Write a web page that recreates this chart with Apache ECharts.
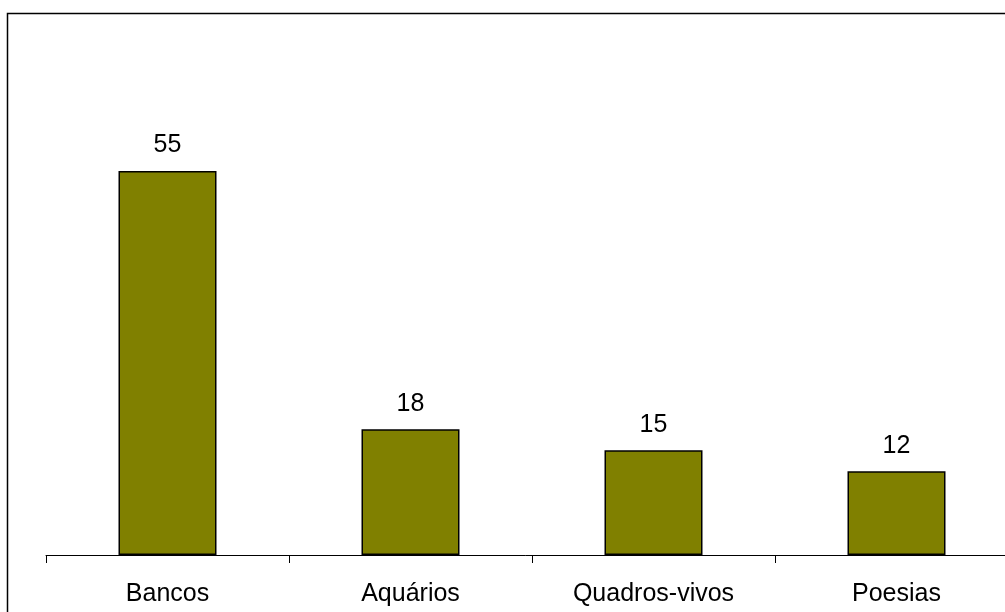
<!DOCTYPE html>
<html>
<head>
<meta charset="utf-8">
<script src="https://cdn.jsdelivr.net/npm/echarts@6/dist/echarts.min.js"></script>
<style>
  html, body { margin: 0; padding: 0; background: #fff; }
  #chart { width: 1005px; height: 612px; }
</style>
</head>
<body>
<div id="chart"></div>
<script>
// dados do gráfico
const categorias = ['Bancos', 'Aquários', 'Quadros-vivos', 'Poesias'];
const valores = [55, 18, 15, 12];

const chart = echarts.init(document.getElementById('chart'));

const option = {
  animation: false,
  textStyle: { fontFamily: 'Liberation Sans, Arial, sans-serif' },
  graphic: [{
    type: 'rect',
    shape: { x: 7.5, y: 13.5, width: 1010, height: 620 },
    style: { fill: 'none', stroke: '#000', lineWidth: 1.5 },
    silent: true
  }],
  grid: { left: 46, width: 972, top: 136, bottom: 57, outerBoundsMode: 'none', containLabel: false },
  xAxis: {
    type: 'category',
    data: categorias,
    axisLine: { lineStyle: { color: '#000', width: 1 } },
    axisTick: { show: true, length: 8, lineStyle: { color: '#000' } },
    axisLabel: { color: '#000', fontSize: 25, margin: 27 }
  },
  yAxis: {
    type: 'value',
    min: 0,
    max: 60,
    show: false,
    splitLine: { show: false }
  },
  series: [{
    type: 'bar',
    data: valores,
    barWidth: 98,
    itemStyle: { color: '#808000', borderColor: '#000', borderWidth: 1.5 },
    label: { show: true, position: 'top', distance: 13, color: '#000', fontSize: 25 }
  }]
};

option && chart.setOption(option);
</script>
</body>
</html>
